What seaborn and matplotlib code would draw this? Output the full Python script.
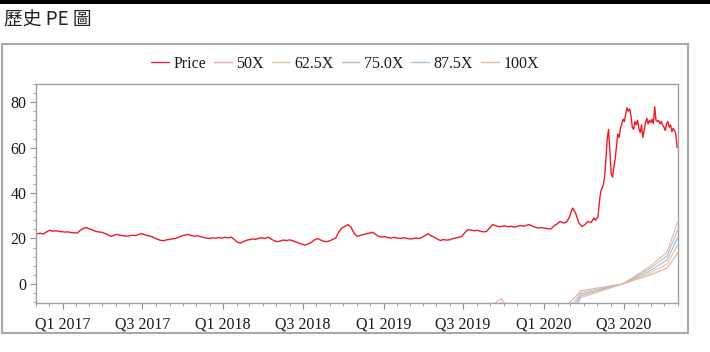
import pandas as pd
import matplotlib
matplotlib.use('Agg')
import matplotlib.pyplot as plt
import matplotlib.dates as mdates
from matplotlib.ticker import MultipleLocator, FuncFormatter
from matplotlib.patches import Rectangle
from matplotlib.lines import Line2D
import seaborn as sns

# weekly closes, 2016-11-04 .. 2020-04-24
price_weekly = [
    22.1, 22.3, 22.0, 22.9, 23.6, 23.2, 23.4, 23.1, 23.0, 22.8,
    22.9, 22.6, 22.5, 22.4, 23.6, 24.5, 24.8, 24.2, 23.7, 23.1,
    22.9, 22.7, 22.2, 21.6, 20.9, 21.5, 21.8, 21.4, 21.2, 21.0,
    21.2, 21.4, 21.3, 21.8, 22.1, 21.6, 21.2, 20.9, 20.3, 19.7,
    19.2, 19.0, 19.4, 19.6, 19.9, 20.0, 20.6, 21.2, 21.5, 21.8,
    21.3, 21.0, 21.2, 20.8, 20.5, 20.2, 20.0, 20.3, 20.1, 20.4,
    20.2, 20.5, 20.3, 20.6, 19.6, 18.4, 18.0, 18.6, 19.2, 19.5,
    19.8, 19.6, 20.1, 20.3, 20.0, 20.6, 19.8, 19.0, 18.6, 18.9,
    19.3, 19.1, 19.4, 19.0, 18.5, 18.0, 17.5, 17.1, 17.6, 18.2,
    19.3, 20.0, 19.4, 18.8, 18.6, 18.9, 19.6, 20.2, 22.8, 24.6,
    25.3, 26.1, 24.9, 22.3, 20.9, 21.4, 21.7, 22.1, 22.4, 22.7,
    21.8, 20.9, 20.6, 20.8, 20.4, 20.2, 20.5, 20.2, 20.0, 20.3,
    20.1, 19.8, 19.9, 20.2, 20.0, 20.4, 21.3, 22.1, 21.2, 20.6,
    19.8, 19.1, 19.5, 19.3, 19.4, 19.9, 20.2, 20.5, 20.9, 22.6,
    23.9, 23.7, 23.4, 23.6, 23.2, 22.9, 23.1, 24.5, 26.1, 25.7,
    25.2, 25.3, 25.6, 25.1, 25.4, 25.0, 25.3, 25.7, 25.4, 25.8,
    26.1, 25.4, 24.9, 24.6, 24.8, 24.5, 24.3, 24.2, 25.6, 26.4,
    27.5, 26.8, 27.1, 29.5, 33.4, 31.2, 27.0, 25.3, 26.1, 27.5,
    27.0, 29.0,
]
# every 3 days, 2020-04-27 .. 2020-10-30
price_late = [
    28.0, 28.8, 29.5, 36.0, 40.5, 42.0, 43.5, 47.0, 55.0, 64.0,
    68.0, 58.0, 48.5, 47.0, 51.5, 55.0, 60.5, 66.0, 64.5, 68.5,
    70.5, 72.5, 71.5, 74.5, 77.5, 76.0, 77.0, 74.0, 69.0, 68.0,
    71.5, 70.0, 72.0, 68.5, 66.5, 70.0, 64.5, 67.5, 71.0, 73.0,
    70.5, 72.0, 71.0, 72.5, 70.5, 78.0, 72.0, 71.5, 72.0, 70.5,
    71.5, 70.0, 69.0, 67.5, 70.5, 71.5, 69.0, 70.0, 67.0, 68.5,
    67.5, 66.0, 60.0,
]

# PE band lines (price at N x trailing EPS)
band_dates = ['2019-06-01', '2019-08-15', '2019-09-25', '2019-11-01', '2020-01-20',
              '2020-02-20', '2020-03-25', '2020-06-28', '2020-08-28', '2020-10-07',
              '2020-10-31']
band_50 = [-22.5, -12.5, -6.5, -15.0, -22.5, -10.0, -3.0, 0.0, 3.8, 7.0, 13.5]
band_62 = [-28.1, -15.6, -8.1, -18.8, -28.1, -12.5, -3.8, 0.0, 4.7, 8.8, 16.9]
band_75 = [-33.8, -18.8, -9.8, -22.5, -33.8, -15.0, -4.5, 0.0, 5.6, 10.5, 20.3]
band_87 = [-39.4, -21.9, -11.4, -26.3, -39.4, -17.5, -5.3, 0.0, 6.6, 12.3, 23.6]
band_100 = [-45.0, -25.0, -13.0, -30.0, -45.0, -20.0, -6.0, 0.0, 7.5, 14.0, 27.0]
band_labels = ['50X', '62.5X', '75.0X', '87.5X', '100X']
band_colors = ['#e6a9a9', '#dccaa0', '#b4bcc4', '#a9c3da', '#efb596']

dates = list(pd.date_range('2016-11-04', periods=len(price_weekly), freq='7D')) + \
    list(pd.date_range('2020-04-27', periods=len(price_late), freq='3D'))
df_price = pd.DataFrame({'date': dates, 'value': price_weekly + price_late})

frames = []
for lab, vals in zip(band_labels, [band_50, band_62, band_75, band_87, band_100]):
    frames.append(pd.DataFrame({'date': pd.to_datetime(band_dates), 'value': vals, 'band': lab}))
df_band = pd.concat(frames, ignore_index=True)

sns.set_style('ticks')
plt.rcParams['font.family'] = ['Liberation Serif', 'DejaVu Sans']

fig = plt.figure(figsize=(7.1, 3.52), dpi=100)
ax = fig.add_axes([36 / 710, 1 - 303 / 352, 642 / 710, 219 / 352])

sns.lineplot(data=df_band, x='date', y='value', hue='band', hue_order=band_labels,
             palette=band_colors, linewidth=0.8, ax=ax, legend=False)
sns.lineplot(data=df_price, x='date', y='value', color='#ec1c24', linewidth=1.0, ax=ax)

ax.set_xlim(pd.Timestamp('2016-11-01'), pd.Timestamp('2020-11-01'))
ax.set_ylim(-8.4, 88)
ax.set_xlabel('')
ax.set_ylabel('')

ax.xaxis.set_major_locator(mdates.MonthLocator(bymonth=[1, 7]))
ax.xaxis.set_minor_locator(mdates.MonthLocator())
ax.xaxis.set_major_formatter(FuncFormatter(
    lambda v, p: 'Q%d %d' % ((mdates.num2date(v).month - 1) // 3 + 1, mdates.num2date(v).year)))
ax.yaxis.set_major_locator(MultipleLocator(20))
ax.yaxis.set_minor_locator(MultipleLocator(4))

for s in ax.spines.values():
    s.set_color('#a0a0a0')
    s.set_linewidth(1.0)
ax.tick_params(which='major', length=4, color='#909090', labelsize=11.5, labelcolor='#1a1a1a', pad=3)
ax.tick_params(which='minor', length=2, color='#909090')
ax.tick_params(axis='x', pad=6)

# legend
handles = [Line2D([], [], color='#d42a3c', lw=1.0)] + \
    [Line2D([], [], color=c, lw=1.0) for c in band_colors]
fig.legend(handles, ['Price'] + band_labels, loc='center', bbox_to_anchor=(345 / 710, 1 - 64 / 352),
           ncol=6, frameon=False, fontsize=11.5, handlelength=1.1, handletextpad=0.3,
           columnspacing=0.5, labelcolor='#1a1a1a')

# outer frame, top bar and heading
fig.patches.append(Rectangle((2 / 710, 1 - 333 / 352), 686 / 710, 289 / 352, transform=fig.transFigure,
                             fill=False, edgecolor='#a8a8a8', linewidth=1.5))
fig.patches.append(Rectangle((0, 1 - 3.5 / 352), 1, 3.5 / 352, transform=fig.transFigure,
                             color='black', linewidth=0))
fig.text(4 / 710, 1 - 20 / 352, '歷史 PE 圖', family=['Noto Sans CJK TC', 'DejaVu Sans'],
         fontsize=13.5, va='center', ha='left', color='#222222')

fig.savefig('out.png', dpi=100)
